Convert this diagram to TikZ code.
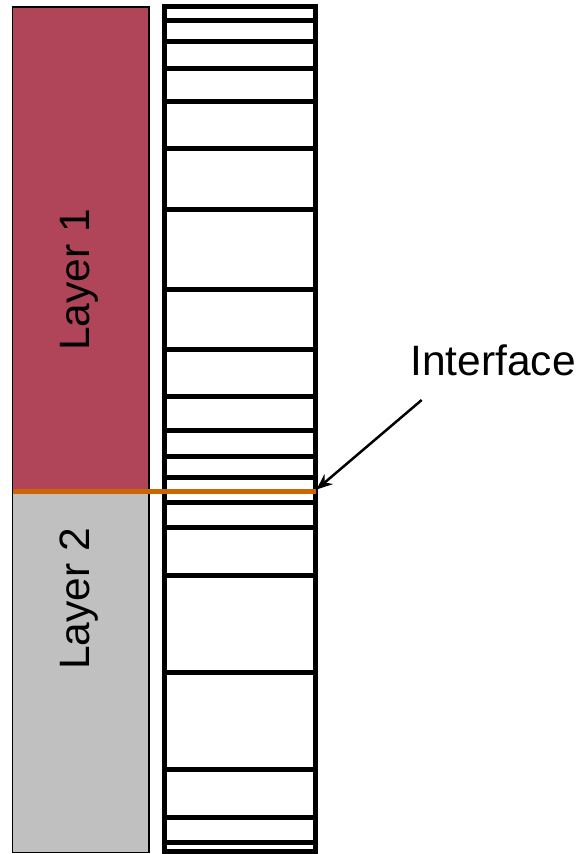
\documentclass[tikz,border=0pt]{standalone}
\usepackage{fontspec}
\setmainfont{Liberation Sans}
\usetikzlibrary{arrows.meta}
\definecolor{layerone}{RGB}{176,69,89}
\definecolor{layertwo}{RGB}{192,192,192}
\definecolor{ifacecol}{RGB}{204,102,0}
\begin{document}
\begin{tikzpicture}[x=1pt,y=-1pt,
  lbl/.style={font=\fontsize{42.5}{50}\selectfont, inner sep=0pt},
  gridline/.style={line width=5pt, black},
  layerbox/.style={draw=black, line width=1.3pt}]
\useasboundingbox (0,0) rectangle (579,854);
% left layer boxes
\fill[layerone] (12.7,7) rectangle (149,491);
\fill[layertwo] (12.7,491) rectangle (149,852.5);
\draw[layerbox] (12.7,7) rectangle (149,852.5);
% right discretised column
\foreach \y in {20.7,41,68,101.3,148.3,209.3,289,349.3,396.7,430,456.7,477.3,502.7,527.3,575.7,672.3,769.3,817.7,842}
  \draw[gridline] (164.3,\y) -- (315.7,\y);
\draw[gridline] (164.3,6.7) rectangle (315.7,851.5);
% interface line
\coordinate (ifstart) at (13,491);
\coordinate (ifend) at (315.7,491);
\draw[ifacecol, line width=5pt] (ifstart) -- (ifend);
% labels
\node[lbl, rotate=90, anchor=base] (l1) at (89,280) {Layer 1};
\node[lbl, rotate=90, anchor=base] (l2) at (89.5,599) {Layer 2};
\node[lbl, anchor=base] (iface) at (493,375) {Interface};
\coordinate (arrstart) at (421.7,400);
\coordinate (arrtip) at (316.5,489.5);
\draw[line width=2.5pt, -{Stealth[length=16pt,width=13pt]}] (arrstart) -- (arrtip);
\end{tikzpicture}
\end{document}
